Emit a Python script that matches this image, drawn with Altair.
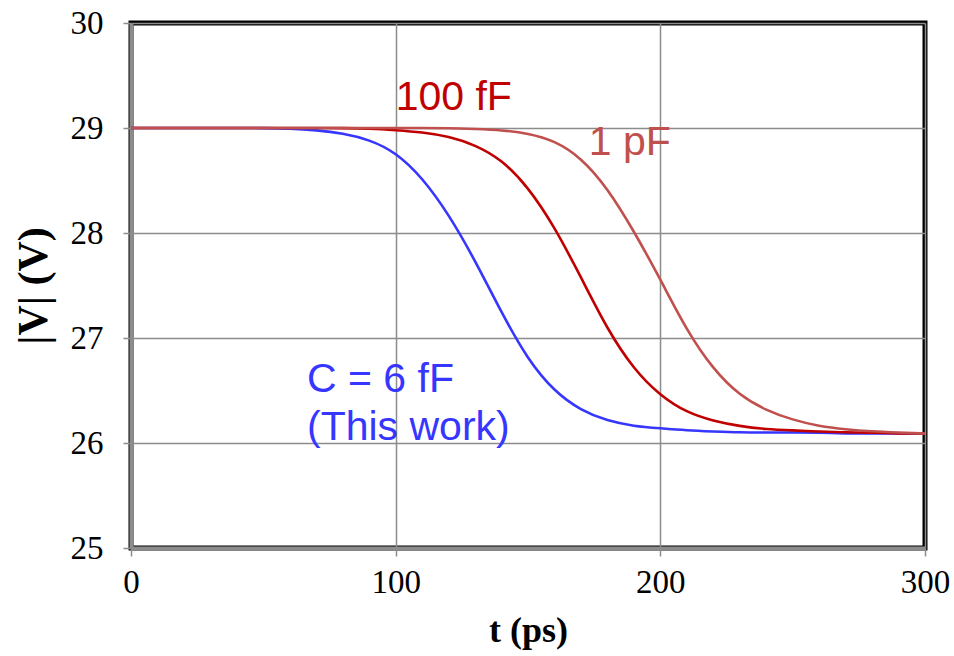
import altair as alt
import pandas as pd

# ---- data ----
t_ps = [0, 10, 20, 30, 40, 50, 60, 70, 80, 90, 100, 110, 120, 130, 140, 150,
        160, 170, 180, 190, 200, 210, 220, 230, 240, 250, 260, 270, 280, 290, 300]
v_6fF = [29.0, 29.0, 29.0, 29.0, 29.0, 29.0, 28.995, 28.98, 28.95, 28.89, 28.77,
         28.53, 28.18, 27.74, 27.24, 26.79, 26.49, 26.31, 26.21, 26.16, 26.14,
         26.12, 26.11, 26.1, 26.1, 26.1, 26.1, 26.09, 26.09, 26.09, 26.09]
v_100fF = [29.0, 29.0, 29.0, 29.0, 29.0, 29.0, 29.0, 29.0, 29.0, 28.995, 28.98,
           28.96, 28.92, 28.84, 28.70, 28.44, 28.06, 27.58, 27.08, 26.70, 26.45,
           26.29, 26.21, 26.16, 26.13, 26.12, 26.11, 26.1, 26.1, 26.09, 26.09]
v_1pF = [29.0, 29.0, 29.0, 29.0, 29.0, 29.0, 29.0, 29.0, 29.0, 29.0, 29.0,
         29.0, 29.0, 28.99, 28.98, 28.95, 28.88, 28.72, 28.43, 28.02, 27.56,
         27.07, 26.70, 26.45, 26.31, 26.22, 26.16, 26.13, 26.11, 26.1, 26.09]

series_names = ["C = 6 fF", "100 fF", "1 pF"]
series_colors = ["#3636ff", "#c00000", "#c0504d"]

label_texts = ["100 fF", "1 pF", "C = 6 fF", "(This work)"]
label_x = [100.0, 173.0, 66.5, 66.5]
label_y = [29.17, 28.74, 26.49, 26.03]
label_series = ["100 fF", "1 pF", "C = 6 fF", "C = 6 fF"]

rows = []
for name, vals in zip(series_names, [v_6fF, v_100fF, v_1pF]):
    for t, v in zip(t_ps, vals):
        rows.append({"t": t, "v": v, "series": name})
df = pd.DataFrame(rows)
df_lab = pd.DataFrame({"t": label_x, "v": label_y, "text": label_texts,
                       "series": label_series})

color_scale = alt.Scale(domain=series_names, range=series_colors)

x_enc = alt.X("t:Q", scale=alt.Scale(domain=[0, 300], nice=False),
              axis=alt.Axis(values=[0, 100, 200, 300], title="t (ps)", format="d",
                            labelFontSize=33, titleFontSize=36, labelFlush=False,
                            labelPadding=10, titlePadding=14))
y_enc = alt.Y("v:Q", scale=alt.Scale(domain=[25, 30], nice=False, zero=False),
              axis=alt.Axis(values=[25, 26, 27, 28, 29, 30], title="|V| (V)", format="d",
                            labelFontSize=33, titleFontSize=42,
                            labelPadding=20, titlePadding=15))

lines = alt.Chart(df).mark_line(interpolate="basis", strokeWidth=2.6).encode(
    x=x_enc, y=y_enc,
    color=alt.Color("series:N", scale=color_scale, legend=None),
    detail="series:N",
)

labels = alt.Chart(df_lab).mark_text(
    align="left", baseline="alphabetic", font="Liberation Sans", fontSize=41
).encode(
    x="t:Q", y="v:Q", text="text:N",
    color=alt.Color("series:N", scale=color_scale, legend=None),
)

chart = alt.layer(lines, labels).properties(
    width=794, height=525,
    autosize=alt.AutoSizeParams(type="none"),
    padding={"left": 131, "top": 23, "right": 29, "bottom": 108},
).configure_view(
    stroke="black", strokeWidth=5
).configure_axis(
    labelFont="Liberation Serif", titleFont="Liberation Serif",
    labelColor="black", titleColor="black", titleFontWeight="bold",
    gridColor="#8c8c8c", gridWidth=1.5, gridOpacity=1,
    domainColor="#8c8c8c", domainWidth=4,
    tickColor="#8c8c8c", tickWidth=1.5, tickSize=8,
    zindex=1,
)

chart.save("out.html", embed_options={"renderer": "svg", "actions": False})
